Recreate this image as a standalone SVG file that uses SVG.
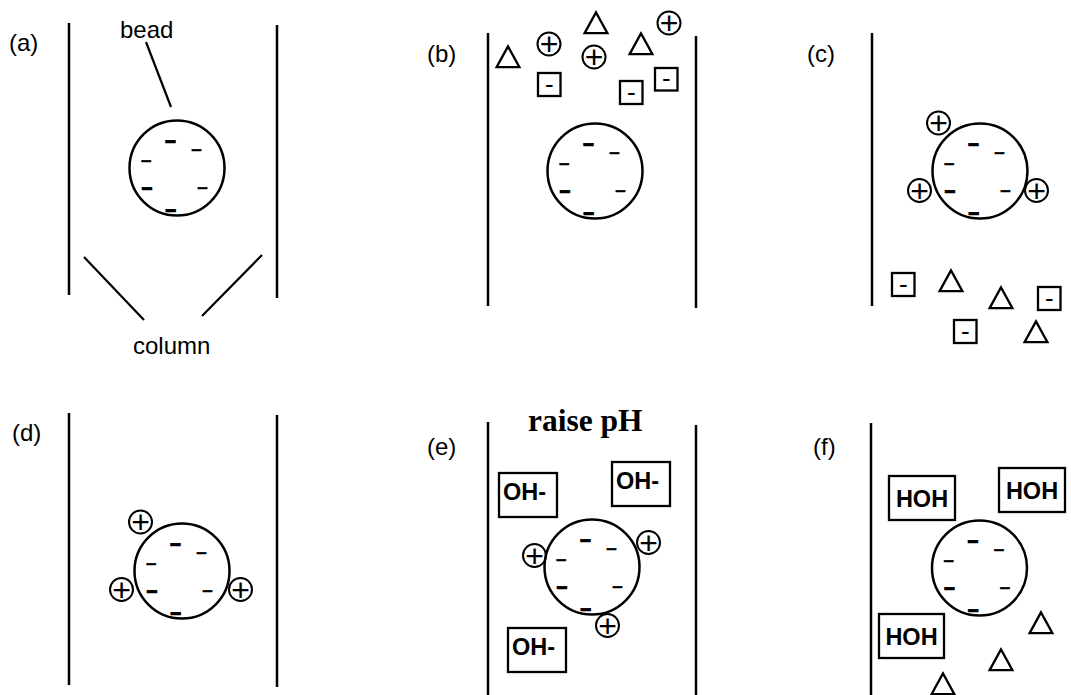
<svg xmlns="http://www.w3.org/2000/svg" width="1071" height="695" viewBox="0 0 1071 695">
  <style>
    .col { stroke:#000; stroke-width:2.5; fill:none; }
    .lead { stroke:#000; stroke-width:2.2; fill:none; }
    .bead { stroke:#000; stroke-width:2.5; fill:none; }
    .ion { stroke:#000; stroke-width:2; fill:none; }
    .tri { stroke:#000; stroke-width:2.3; fill:none; stroke-linejoin:miter; }
    .box { stroke:#000; stroke-width:2.3; fill:none; }
    .lbl { font-family:"Liberation Sans", Arial, sans-serif; font-size:24px; fill:#000; }
    .m { font-family:"Liberation Sans", Arial, sans-serif; font-size:22px; text-anchor:middle; fill:#000; stroke:#000; stroke-width:0.4; }
    .mb { font-family:"Liberation Sans", Arial, sans-serif; font-size:22px; font-weight:bold; text-anchor:middle; fill:#000; stroke:#000; stroke-width:0.6; }
    .p { font-family:"Liberation Sans", Arial, sans-serif; font-size:32px; text-anchor:middle; fill:#000; }
    .bm { font-family:"Liberation Sans", Arial, sans-serif; font-size:26px; text-anchor:middle; fill:#000; }
    .tag { font-family:"Liberation Sans", Arial, sans-serif; font-size:23.5px; font-weight:bold; fill:#000; }
    .title { font-family:"Liberation Serif", "Times New Roman", serif; font-size:31.5px; font-weight:bold; fill:#000; }
  </style>
  <defs>
    <polygon id="triangle" class="tri" points="0,2.4 -11.4,23.2 11.4,23.2"/>
  </defs>

  <!-- panel (a): bead in column -->
  <g id="panel-a">
    <text class="lbl" x="9" y="51">(a)</text>
    <line class="col" x1="69" y1="23" x2="69" y2="295"/>
    <line class="col" x1="277" y1="25" x2="277" y2="298"/>
    <text class="lbl" x="120" y="37.5">bead</text>
    <text class="lbl" x="133" y="354">column</text>
    <g id="bead-a" transform="translate(177,168)">
      <circle class="bead" r="47.5"/>
      <text class="mb" x="-6.5" y="-21.3" textLength="12.4" lengthAdjust="spacingAndGlyphs">-</text>
      <text class="m" x="19.5" y="-11.8" textLength="12.4" lengthAdjust="spacingAndGlyphs">-</text>
      <text class="m" x="-30.8" y="-0.8" textLength="12.4" lengthAdjust="spacingAndGlyphs">-</text>
      <text class="mb" x="-30" y="26.3" textLength="12.4" lengthAdjust="spacingAndGlyphs">-</text>
      <text class="m" x="25.5" y="25.8" textLength="12.4" lengthAdjust="spacingAndGlyphs">-</text>
      <text class="mb" x="-6.3" y="47.7" textLength="12.4" lengthAdjust="spacingAndGlyphs">-</text>
    </g>
  </g>

  <!-- panel (b): sample loaded on top -->
  <g id="panel-b">
    <text class="lbl" x="427" y="62">(b)</text>
    <line class="col" x1="488" y1="33" x2="488" y2="306"/>
    <line class="col" x1="696" y1="36" x2="696" y2="308"/>
    <g id="bead-b" transform="translate(595,171)">
      <circle class="bead" r="47.5"/>
      <text class="mb" x="-6.5" y="-21.3" textLength="12.4" lengthAdjust="spacingAndGlyphs">-</text>
      <text class="m" x="19.5" y="-11.8" textLength="12.4" lengthAdjust="spacingAndGlyphs">-</text>
      <text class="m" x="-30.8" y="-0.8" textLength="12.4" lengthAdjust="spacingAndGlyphs">-</text>
      <text class="mb" x="-30" y="26.3" textLength="12.4" lengthAdjust="spacingAndGlyphs">-</text>
      <text class="m" x="25.5" y="25.8" textLength="12.4" lengthAdjust="spacingAndGlyphs">-</text>
      <text class="mb" x="-6.3" y="47.7" textLength="12.4" lengthAdjust="spacingAndGlyphs">-</text>
    </g>
    <use href="#triangle" x="508" y="44"/>
    <use href="#triangle" x="596" y="10"/>
    <use href="#triangle" x="641" y="31"/>
    <circle class="ion" cx="549" cy="44" r="11.5"/><text class="p" x="549" y="55.4">+</text>
    <circle class="ion" cx="594" cy="57" r="11.5"/><text class="p" x="594" y="68.4">+</text>
    <circle class="ion" cx="669" cy="23" r="11.5"/><text class="p" x="669" y="34.4">+</text>
    <rect class="box" x="538" y="73" width="22.5" height="23"/><text class="bm" x="549.3" y="92.5">-</text>
    <rect class="box" x="620" y="81" width="22.5" height="23"/><text class="bm" x="631.3" y="100.5">-</text>
    <rect class="box" x="655" y="68" width="22.5" height="22.5"/><text class="bm" x="666.3" y="87">-</text>
  </g>

  <!-- panel (c): cations bound, the rest washed through -->
  <g id="panel-c">
    <text class="lbl" x="807" y="62">(c)</text>
    <line class="col" x1="872" y1="33" x2="872" y2="306"/>
    <g id="bead-c" transform="translate(980,171)">
      <circle class="bead" r="47.5"/>
      <text class="mb" x="-6.5" y="-21.3" textLength="12.4" lengthAdjust="spacingAndGlyphs">-</text>
      <text class="m" x="19.5" y="-11.8" textLength="12.4" lengthAdjust="spacingAndGlyphs">-</text>
      <text class="m" x="-30.8" y="-0.8" textLength="12.4" lengthAdjust="spacingAndGlyphs">-</text>
      <text class="mb" x="-30" y="26.3" textLength="12.4" lengthAdjust="spacingAndGlyphs">-</text>
      <text class="m" x="25.5" y="25.8" textLength="12.4" lengthAdjust="spacingAndGlyphs">-</text>
      <text class="mb" x="-6.3" y="47.7" textLength="12.4" lengthAdjust="spacingAndGlyphs">-</text>
    </g>
    <circle class="ion" cx="938.5" cy="123" r="11.5"/><text class="p" x="938.5" y="134.4">+</text>
    <circle class="ion" cx="919.5" cy="190.5" r="11.5"/><text class="p" x="919.5" y="201.9">+</text>
    <circle class="ion" cx="1036.5" cy="190.5" r="11.5"/><text class="p" x="1036.5" y="201.9">+</text>
    <rect class="box" x="892" y="273" width="22.5" height="23"/><text class="bm" x="903.3" y="292.5">-</text>
    <rect class="box" x="1038" y="287" width="22.5" height="23"/><text class="bm" x="1049.3" y="306.5">-</text>
    <rect class="box" x="954" y="320" width="22.5" height="23"/><text class="bm" x="965.3" y="339.5">-</text>
    <use href="#triangle" x="951" y="268"/>
    <use href="#triangle" x="1001" y="285"/>
    <use href="#triangle" x="1036" y="319"/>
  </g>

  <!-- panel (d): bound cations only -->
  <g id="panel-d">
    <text class="lbl" x="12" y="441">(d)</text>
    <line class="col" x1="69" y1="413" x2="69" y2="685"/>
    <line class="col" x1="277" y1="415" x2="277" y2="687"/>
    <g id="bead-d" transform="translate(182,571)">
      <circle class="bead" r="47.5"/>
      <text class="mb" x="-6.5" y="-21.3" textLength="12.4" lengthAdjust="spacingAndGlyphs">-</text>
      <text class="m" x="19.5" y="-11.8" textLength="12.4" lengthAdjust="spacingAndGlyphs">-</text>
      <text class="m" x="-30.8" y="-0.8" textLength="12.4" lengthAdjust="spacingAndGlyphs">-</text>
      <text class="mb" x="-30" y="26.3" textLength="12.4" lengthAdjust="spacingAndGlyphs">-</text>
      <text class="m" x="25.5" y="25.8" textLength="12.4" lengthAdjust="spacingAndGlyphs">-</text>
      <text class="mb" x="-6.3" y="47.7" textLength="12.4" lengthAdjust="spacingAndGlyphs">-</text>
    </g>
    <circle class="ion" cx="140.5" cy="522" r="11.5"/><text class="p" x="140.5" y="533.4">+</text>
    <circle class="ion" cx="121.5" cy="589.5" r="11.5"/><text class="p" x="121.5" y="600.9">+</text>
    <circle class="ion" cx="240.5" cy="589.5" r="11.5"/><text class="p" x="240.5" y="600.9">+</text>
  </g>

  <!-- panel (e): raise pH -->
  <g id="panel-e">
    <text class="lbl" x="427" y="455">(e)</text>
    <text class="title" x="528" y="431">raise pH</text>
    <line class="col" x1="488" y1="422" x2="488" y2="695"/>
    <line class="col" x1="696" y1="425" x2="696" y2="695"/>
    <g id="bead-e" transform="translate(592,567)">
      <circle class="bead" r="47.5"/>
      <text class="mb" x="-6.5" y="-21.3" textLength="12.4" lengthAdjust="spacingAndGlyphs">-</text>
      <text class="m" x="19.5" y="-11.8" textLength="12.4" lengthAdjust="spacingAndGlyphs">-</text>
      <text class="m" x="-30.8" y="-0.8" textLength="12.4" lengthAdjust="spacingAndGlyphs">-</text>
      <text class="mb" x="-30" y="26.3" textLength="12.4" lengthAdjust="spacingAndGlyphs">-</text>
      <text class="m" x="25.5" y="25.8" textLength="12.4" lengthAdjust="spacingAndGlyphs">-</text>
      <text class="mb" x="-6.3" y="47.7" textLength="12.4" lengthAdjust="spacingAndGlyphs">-</text>
    </g>
    <circle class="ion" cx="534.5" cy="555.5" r="11.5"/><text class="p" x="534.5" y="566.9">+</text>
    <circle class="ion" cx="648.5" cy="542.5" r="11.5"/><text class="p" x="648.5" y="553.9">+</text>
    <circle class="ion" cx="607.5" cy="625.5" r="11.5"/><text class="p" x="607.5" y="636.9">+</text>
    <g id="oh-1"><rect class="box" x="499" y="473" width="58" height="44"/><text class="tag" x="503" y="499.5">OH-</text></g>
    <g id="oh-2"><rect class="box" x="612" y="462" width="58" height="44"/><text class="tag" x="616" y="488.5">OH-</text></g>
    <g id="oh-3"><rect class="box" x="508" y="628" width="58" height="44"/><text class="tag" x="512" y="654.5">OH-</text></g>
  </g>

  <!-- panel (f): neutralised, cations released -->
  <g id="panel-f">
    <text class="lbl" x="813" y="455">(f)</text>
    <line class="col" x1="871" y1="423" x2="871" y2="695"/>
    <g id="bead-f" transform="translate(979.5,568)">
      <circle class="bead" r="47.5"/>
      <text class="mb" x="-6.5" y="-21.3" textLength="12.4" lengthAdjust="spacingAndGlyphs">-</text>
      <text class="m" x="19.5" y="-11.8" textLength="12.4" lengthAdjust="spacingAndGlyphs">-</text>
      <text class="m" x="-30.8" y="-0.8" textLength="12.4" lengthAdjust="spacingAndGlyphs">-</text>
      <text class="mb" x="-30" y="26.3" textLength="12.4" lengthAdjust="spacingAndGlyphs">-</text>
      <text class="m" x="25.5" y="25.8" textLength="12.4" lengthAdjust="spacingAndGlyphs">-</text>
      <text class="mb" x="-6.3" y="47.7" textLength="12.4" lengthAdjust="spacingAndGlyphs">-</text>
    </g>
    <g id="hoh-1"><rect class="box" x="889" y="476" width="66" height="44"/><text class="tag" x="922" y="506.5" text-anchor="middle">HOH</text></g>
    <g id="hoh-2"><rect class="box" x="999" y="468" width="66" height="44"/><text class="tag" x="1032" y="498.5" text-anchor="middle">HOH</text></g>
    <g id="hoh-3"><rect class="box" x="879" y="614" width="65" height="44"/><text class="tag" x="911.5" y="644.5" text-anchor="middle">HOH</text></g>
    <use href="#triangle" x="1041" y="610"/>
    <use href="#triangle" x="1001" y="647"/>
    <use href="#triangle" x="943" y="671"/>
  </g>

  <!-- leader lines for the labels -->
  <g id="connectors">
    <line class="lead" x1="146" y1="42" x2="171" y2="107"/>
    <line class="lead" x1="84" y1="257" x2="144" y2="320"/>
    <line class="lead" x1="262" y1="255" x2="202" y2="316"/>
  </g>
</svg>
